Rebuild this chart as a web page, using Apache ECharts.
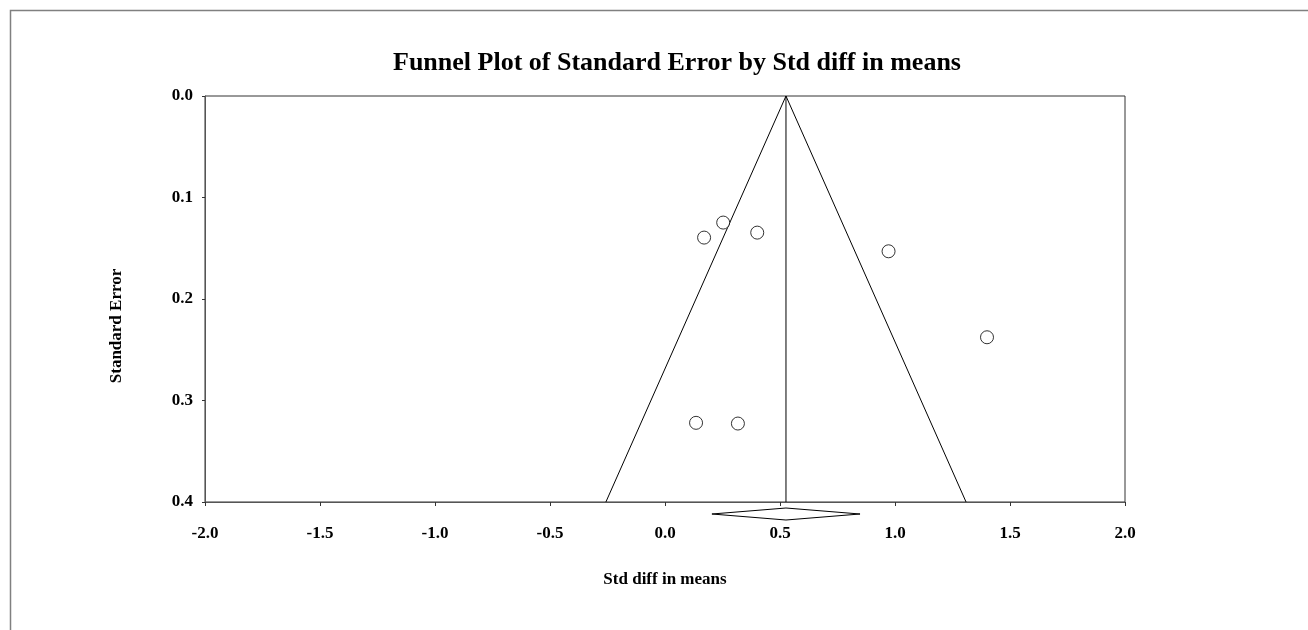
<!DOCTYPE html>
<html>
<head>
<meta charset="utf-8">
<script src="https://cdn.jsdelivr.net/npm/echarts@6/dist/echarts.min.js"></script>
<style>
  html, body { margin: 0; padding: 0; background: #fff; }
  #chart { width: 1308px; height: 630px; }
</style>
</head>
<body>
<div id="chart"></div>
<script>
// study points: effect size (std diff in means) and standard error
var studyEffect = [0.170, 0.253, 0.401, 0.972, 1.400, 0.135, 0.317];
var studySE = [0.1395, 0.1247, 0.1346, 0.153, 0.2377, 0.322, 0.3227];

// funnel outline and pooled estimate
var funnelX = [-0.257, 0.526, 1.309];
var funnelY = [0.4, 0.0, 0.4];
var pooledEffect = 0.526;
var pooledLow = 0.204;
var pooledHigh = 0.848;

var xTicks = [-2.0, -1.5, -1.0, -0.5, 0.0, 0.5, 1.0, 1.5, 2.0];
var yTicks = [0.0, 0.1, 0.2, 0.3, 0.4];

var font = "Liberation Serif";
var chart = echarts.init(document.getElementById("chart"));

var option = {
  backgroundColor: "#fff",
  animation: false,
  title: {
    text: "Funnel Plot of Standard Error by Std diff in means",
    left: 672,
    top: 45,
    textAlign: "center",
    textStyle: {
      fontFamily: font,
      fontWeight: "bold",
      fontSize: 26,
      color: "#000"
    }
  },
  graphic: [
    {
      // outer frame
      type: "rect",
      left: 8,
      top: 8,
      shape: { width: 1400, height: 700 },
      style: { fill: "none", stroke: "#808080", lineWidth: 1.5 },
      silent: true
    }
  ],
  grid: {
    left: 205,
    right: 183,
    top: 96,
    bottom: 128,
    show: true,
    borderColor: "#333",
    borderWidth: 1
  },
  xAxis: {
    type: "value",
    min: -2,
    max: 2,
    interval: 0.5,
    name: "Std diff in means",
    nameLocation: "middle",
    nameGap: 69,
    nameTextStyle: {
      fontFamily: font,
      fontWeight: "bold",
      fontSize: 17,
      color: "#000"
    },
    axisLine: { show: true, onZero: false, lineStyle: { color: "#555", width: 1 } },
    axisTick: { show: true, length: 4, lineStyle: { color: "#333" } },
    splitLine: { show: false },
    axisLabel: {
      margin: 23,
      fontFamily: font,
      fontWeight: "bold",
      fontSize: 17,
      color: "#000",
      formatter: function(v) {
        return v.toFixed(1);
      }
    }
  },
  yAxis: {
    type: "value",
    inverse: true,
    min: 0,
    max: 0.4,
    interval: 0.1,
    name: "Standard Error",
    nameLocation: "middle",
    nameGap: 80,
    nameTextStyle: {
      fontFamily: font,
      fontWeight: "bold",
      fontSize: 17,
      color: "#000",
      padding: [0, 54, 0, 0]
    },
    axisLine: { show: true, onZero: false, lineStyle: { color: "#555", width: 1 } },
    axisTick: { show: true, length: 3, lineStyle: { color: "#333" } },
    splitLine: { show: false },
    axisLabel: {
      margin: 12,
      fontFamily: font,
      fontWeight: "bold",
      fontSize: 17,
      color: "#000",
      formatter: function(v) {
        return v.toFixed(1);
      }
    }
  },
  series: [
    {
      name: "funnel",
      type: "line",
      data: funnelX.map(function(x, i) {
        return [x, funnelY[i]];
      }),
      symbol: "none",
      lineStyle: { color: "#000", width: 1 },
      z: 2
    },
    {
      name: "pooled",
      type: "line",
      data: [
        [pooledEffect, 0],
        [pooledEffect, 0.4]
      ],
      symbol: "none",
      lineStyle: { color: "#000", width: 1 },
      z: 2
    },
    {
      name: "studies",
      type: "scatter",
      data: studyEffect.map(function(x, i) {
        return [x, studySE[i]];
      }),
      symbol: "circle",
      symbolSize: 13,
      itemStyle: { color: "#fff", borderColor: "#000", borderWidth: 1 },
      z: 3
    },
    {
      name: "diamond",
      type: "custom",
      clip: false,
      data: [[pooledLow, pooledEffect, pooledHigh]],
      renderItem: function(params, api) {
        var base = api.coord([api.value(1), 0.4]);
        var cy = base[1] + 12; //菱形中心在x轴下方
        var l = api.coord([api.value(0), 0.4])[0];
        var m = base[0];
        var r = api.coord([api.value(2), 0.4])[0];
        return {
          type: "polygon",
          shape: {
            points: [
              [l, cy],
              [m, cy - 6],
              [r, cy],
              [m, cy + 6]
            ]
          },
          style: { fill: "#fff", stroke: "#000", lineWidth: 1 }
        };
      },
      z: 3
    }
  ]
};

chart.setOption(option);
window.addEventListener("resize", function() {
  chart.resize();
});
</script>
</body>
</html>
